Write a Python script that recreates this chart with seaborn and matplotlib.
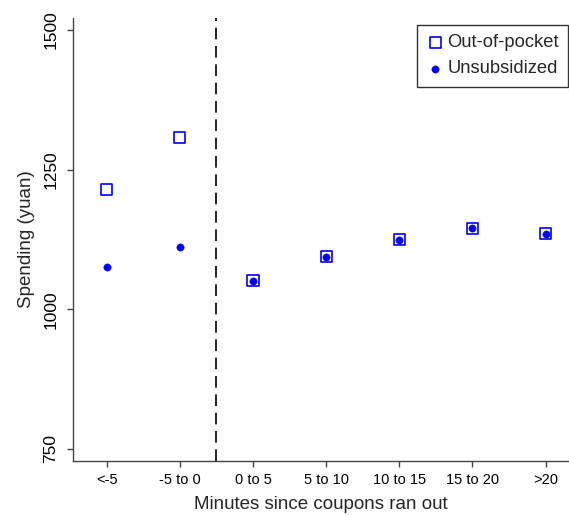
import matplotlib
matplotlib.use("Agg")
import matplotlib.pyplot as plt
import seaborn as sns
import pandas as pd

categories = ["<-5", "-5 to 0", "0 to 5", "5 to 10", "10 to 15", "15 to 20", ">20"]
out_of_pocket = [1214, 1308, 1051, 1094, 1125, 1145, 1135]
unsubsidized = [1076, 1111, 1051, 1094, 1125, 1145, 1135]
yticks = [750, 1000, 1250, 1500]

sns.set_style("white")
plt.rcParams["font.family"] = ["Liberation Sans", "DejaVu Sans"]

df = pd.DataFrame({"x": range(len(categories)),
                   "oop": out_of_pocket,
                   "uns": unsubsidized})

fig = plt.figure(figsize=(5.69, 5.15), dpi=100)
ax = fig.add_axes([0.1278, 0.1054, 0.8722, 0.8596])

sns.scatterplot(data=df, x="x", y="oop", ax=ax, marker="s", s=64,
                facecolors="none", edgecolor="#0000ff", linewidth=1.2,
                label="Out-of-pocket", zorder=3)
sns.scatterplot(data=df, x="x", y="uns", ax=ax, marker="o", s=28,
                color="#0000ff", edgecolor="#0000ff", linewidth=0.3,
                label="Unsubsidized", zorder=4)

ax.axvline(1.5, color="black", linewidth=1.2, dashes=(7, 4), zorder=2)

ax.set_xlim(-0.465, 6.32)
ax.set_ylim(729, 1521.5)
ax.set_xticks(range(len(categories)))
ax.set_xticklabels(categories, fontsize=10.5)
ax.set_yticks(yticks)
ax.set_yticklabels([str(v) for v in yticks], fontsize=12.5, rotation=90, va="center")
ax.set_xlabel("Minutes since coupons ran out", fontsize=13.5, labelpad=7)
ax.set_ylabel("Spending (yuan)", fontsize=13.5, labelpad=6)

for s in ["top", "right"]:
    ax.spines[s].set_visible(False)
for s in ["left", "bottom"]:
    ax.spines[s].set_color("#444444")
    ax.spines[s].set_linewidth(1.0)
ax.tick_params(axis="both", which="both", direction="out", length=4.5, width=1.0,
               color="#444444", labelcolor="black", pad=4,
               bottom=True, left=True)
ax.tick_params(axis="y", pad=6)

leg = ax.legend(loc="upper left", bbox_to_anchor=(417 / 569, 1 - 25 / 515),
                bbox_transform=fig.transFigure, frameon=True, fancybox=False,
                fontsize=13.2, borderpad=0.5, handletextpad=0.15,
                labelspacing=0.5, handlelength=1.0, borderaxespad=0)
leg.get_frame().set_edgecolor("black")
leg.get_frame().set_linewidth(1.0)

fig.savefig("out.png", dpi=100)
